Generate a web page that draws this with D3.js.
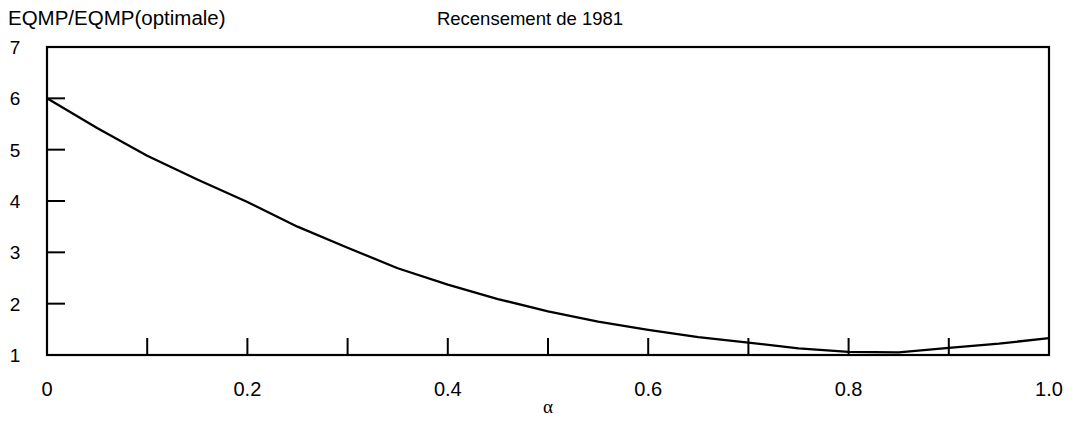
<!DOCTYPE html>
<html>
<head>
<meta charset="utf-8">
<script src="https://cdn.jsdelivr.net/npm/d3@7"></script>
<style>
  html, body { margin: 0; padding: 0; background: #fff; }
  svg { display: block; }
  text { font-family: "Liberation Sans", Arial, Helvetica, sans-serif; fill: #000; }
</style>
</head>
<body>
<svg id="chart" width="1082" height="422"></svg>
<script>
// ---- data ----
const alphaValues = [0, 0.05, 0.1, 0.15, 0.2, 0.25, 0.3, 0.35, 0.4, 0.45, 0.5,
                     0.55, 0.6, 0.65, 0.7, 0.75, 0.8, 0.85, 0.9, 0.95, 1.0];
const ratioValues = [6.0, 5.42, 4.88, 4.42, 3.98, 3.50, 3.09, 2.69, 2.37, 2.09, 1.85,
                     1.65, 1.49, 1.35, 1.24, 1.13, 1.06, 1.05, 1.14, 1.22, 1.33];
const xTickLabels = [0, 0.2, 0.4, 0.6, 0.8, 1.0];
const xMinorTicks = [0.1, 0.2, 0.3, 0.4, 0.5, 0.6, 0.7, 0.8, 0.9];
const yTickLabels = [1, 2, 3, 4, 5, 6, 7];
const yInnerTicks = [2, 3, 4, 5, 6];
const titleText = "Recensement de 1981";
const yAxisTitle = "EQMP/EQMP(optimale)";
const xAxisTitle = "α";

// ---- layout ----
const svg = d3.select("#chart");
const mLeft = 47, mRight = 1049, mTop = 47, mBottom = 355;

const x = d3.scaleLinear().domain([0, 1]).range([mLeft, mRight]);
const y = d3.scaleLinear().domain([1, 7]).range([mBottom, mTop]);

// frame
svg.append("rect")
  .attr("x", mLeft).attr("y", mTop)
  .attr("width", mRight - mLeft).attr("height", mBottom - mTop)
  .attr("fill", "none").attr("stroke", "#000").attr("stroke-width", 2.2);

// x inner ticks (upward from bottom)
svg.append("g").selectAll("line").data(xMinorTicks).join("line")
  .attr("x1", d => x(d)).attr("x2", d => x(d))
  .attr("y1", mBottom).attr("y2", mBottom - 17)
  .attr("stroke", "#000").attr("stroke-width", 2);

// y inner ticks (rightward from left)
svg.append("g").selectAll("line").data(yInnerTicks).join("line")
  .attr("x1", mLeft).attr("x2", mLeft + 18)
  .attr("y1", d => y(d)).attr("y2", d => y(d))
  .attr("stroke", "#000").attr("stroke-width", 2);

// x tick labels
const xFmt = d => (d === 0 ? "0" : d3.format(".1f")(d));
svg.append("g").selectAll("text").data(xTickLabels).join("text")
  .attr("x", d => x(d)).attr("y", 396)
  .attr("text-anchor", "middle")
  .attr("font-size", 20)
  .text(xFmt);

// y tick labels
svg.append("g").selectAll("text").data(yTickLabels).join("text")
  .attr("x", 15).attr("y", d => y(d) + 7)
  .attr("text-anchor", "middle")
  .attr("font-size", 19)
  .text(d => d);

// curve
const pts = alphaValues.map((a, i) => [a, ratioValues[i]]);
svg.append("path")
  .datum(pts)
  .attr("fill", "none").attr("stroke", "#000").attr("stroke-width", 2.3)
  .attr("stroke-linejoin", "round")
  .attr("d", d3.line().x(d => x(d[0])).y(d => y(d[1])));

// titles
svg.append("text").attr("x", 8).attr("y", 25)
  .attr("font-size", 20.5).text(yAxisTitle);
svg.append("text").attr("x", 530).attr("y", 25)
  .attr("text-anchor", "middle").attr("font-size", 18.5).text(titleText);
svg.append("text").attr("x", 548).attr("y", 413)
  .attr("text-anchor", "middle").attr("font-size", 19)
  .style("font-family", "'Liberation Serif', 'DejaVu Serif', serif")
  .text(xAxisTitle);
</script>
</body>
</html>
